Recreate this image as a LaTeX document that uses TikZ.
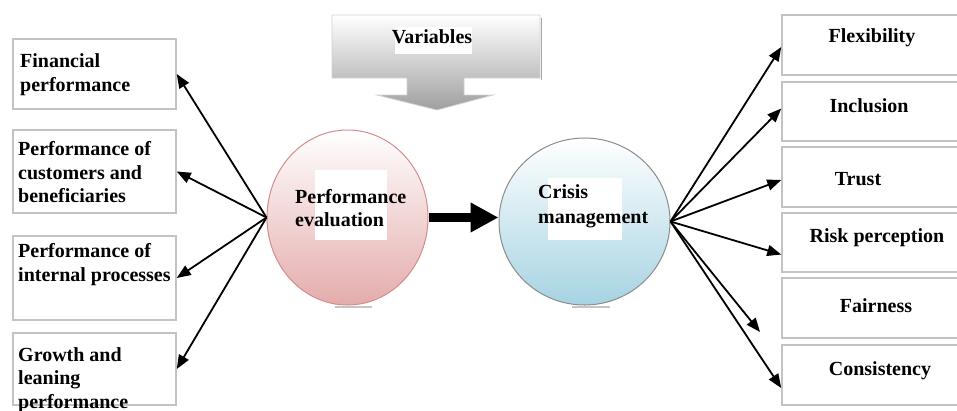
\documentclass[tikz,border=0pt]{standalone}
\usepackage{fontspec}
\setmainfont{Liberation Serif}
\usetikzlibrary{shapes.geometric,arrows.meta}
\definecolor{boxline}{RGB}{195,195,195}
\definecolor{pinkfill}{RGB}{228,172,172}
\definecolor{pinkline}{RGB}{212,140,140}
\definecolor{bluefill}{RGB}{166,211,226}
\definecolor{blueline}{RGB}{140,140,140}
\begin{document}
\begin{tikzpicture}[x=1pt,y=-1pt,
  box/.style={draw=boxline, line width=1.5pt, rectangle, inner sep=0pt, fill=white},
  lbl/.style={font=\fontsize{20}{23.5}\selectfont\bfseries, inner sep=0pt, align=left},
  arr/.style={-{Triangle[length=14pt,width=11pt]}, line width=1.8pt},
  circ/.style={ellipse, inner sep=0pt, line width=1pt},
  whitepatch/.style={fill=white, draw=none}
]
\useasboundingbox (0,0) rectangle (957,410);
% Variables block arrow
\shade[top color=white, bottom color=gray!75, draw=gray!35, line width=0.8pt]
  (332,15) -- (540,15) -- (540,78) -- (464,78) -- (464,95) -- (493,95) -- (437,110)
  -- (377,95) -- (407,95) -- (407,78) -- (332,78) -- cycle;
\draw[gray!70, line width=1.5pt] (541.5,18) -- (541.5,80);
\fill[whitepatch] (395,27) rectangle (472,54);
\node[lbl, anchor=base] (var) at (432,43) {Variables};

% left boxes
\node[box, minimum width=163pt, minimum height=70pt] (fin) at (94.5,74) {};
\node[box, minimum width=163pt, minimum height=83pt] (cus) at (94.5,171.5) {};
\node[box, minimum width=163pt, minimum height=84pt] (int) at (94.5,278) {};
\node[box, minimum width=163pt, minimum height=72pt] (gro) at (94.5,369) {};
\node[lbl, anchor=north west] (tfin) at (20,53.5) {Financial\\performance};
\node[lbl, anchor=north west] (tcus) at (18,141.5) {Performance of\\customers and\\beneficiaries};
\node[lbl, anchor=north west] (tint) at (18,243.5) {Performance of\\internal processes};
\node[lbl, anchor=north west] (tgro) at (18,347) {Growth and\\leaning\\performance};

% right boxes
\node[box, minimum width=178pt, minimum height=60pt] (flex) at (871,45) {};
\node[box, minimum width=178pt, minimum height=59pt] (incl) at (871,111.5) {};
\node[box, minimum width=178pt, minimum height=60pt] (trust) at (871,177) {};
\node[box, minimum width=178pt, minimum height=59pt] (risk) at (871,242.5) {};
\node[box, minimum width=178pt, minimum height=60pt] (fair) at (871,308) {};
\node[box, minimum width=178pt, minimum height=60pt] (cons) at (871,375) {};
\node[lbl, anchor=base] (tflex) at (872,42) {Flexibility};
\node[lbl, anchor=base] (tincl) at (869,112) {Inclusion};
\node[lbl, anchor=base] (ttrust) at (858,185) {Trust};
\node[lbl, anchor=base] (trisk) at (877,242) {Risk perception};
\node[lbl, anchor=base] (tfair) at (876,312) {Fairness};
\node[lbl, anchor=base] (tcons) at (880,375) {Consistency};

% circles
\node[circ, draw=pinkline, top color=white, bottom color=pinkfill,
  minimum width=161pt, minimum height=175pt] (pe) at (347.5,217.5) {};
\node[circ, draw=blueline, top color=white, bottom color=bluefill,
  minimum width=171pt, minimum height=167pt] (cm) at (584.5,221.5) {};
\draw[gray!45, line width=2pt] (335,306.5) -- (372,306.5);
\draw[gray!45, line width=2pt] (572,306.5) -- (610,306.5);
\fill[whitepatch] (315,170) rectangle (387,240);
\fill[whitepatch] (548,178) rectangle (622,240);
\node[lbl, anchor=north west] (tpe) at (295,189) {Performance\\evaluation};
\node[lbl, anchor=north west, font=\fontsize{20}{25}\selectfont\bfseries] (tcm) at (538,184) {Crisis\\management};

% connectors
\coordinate (fairend) at (760,332);
\draw[line width=9pt, -{Triangle[length=28pt,width=28pt]}] (pe.east) -- (pe.east -| cm.west);
\draw[arr] (pe.west) -- (fin.east);
\draw[arr] (pe.west) -- (cus.east);
\draw[arr] (pe.west) -- (int.east);
\draw[arr] (pe.west) -- (gro.east);
\draw[arr] (cm.east) -- ([yshift=-2pt]flex.west);
\draw[arr] (cm.east) -- ([yshift=3pt]incl.west);
\draw[arr] (cm.east) -- ([yshift=-3pt]trust.west);
\draw[arr] (cm.east) -- ([yshift=-12pt]risk.west);
\draw[arr] (cm.east) -- (fairend);
\draw[arr] (cm.east) -- ([yshift=-13pt]cons.west);
\end{tikzpicture}
\end{document}
